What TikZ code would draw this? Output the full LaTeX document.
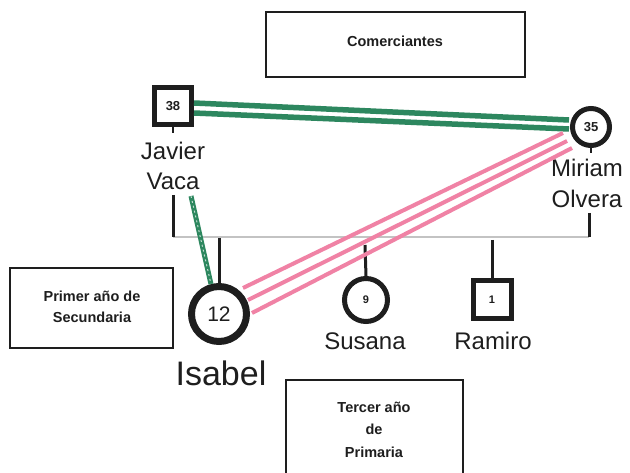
\documentclass[tikz,border=0pt]{standalone}
\usepackage{fontspec}
\setmainfont{Liberation Sans}
\definecolor{tiegreen}{RGB}{45,135,95}
\definecolor{tiepink}{RGB}{240,130,165}
\definecolor{ink}{RGB}{30,30,30}
\definecolor{sibgrey}{RGB}{195,195,195}
\begin{document}
\begin{tikzpicture}[x=1pt,y=-1pt,
  infobox/.style={draw=ink,line width=2.3pt,inner sep=0pt},
  boxtext/.style={font=\bfseries\fontsize{14.5}{16}\selectfont,text=ink,anchor=base},
  female/.style={circle,draw=ink,inner sep=0pt,text=ink},
  male/.style={rectangle,draw=ink,inner sep=0pt,text=ink},
  personname/.style={font=\fontsize{24}{26}\selectfont,text=ink,anchor=base},
  stem/.style={draw=ink,line width=3pt},
  greentie/.style={draw=tiegreen,line width=5.5pt},
  pinktie/.style={draw=tiepink,line width=4pt}]
\useasboundingbox (0,0) rectangle (630,473);
\clip (0,0) rectangle (630,473);
\fill[white] (0,0) rectangle (630,473);

% info boxes
\node[infobox,minimum width=259pt,minimum height=65pt] (com) at (395.5,44.5) {};
\node[boxtext] (comt) at (395,47) {Comerciantes};
\node[infobox,minimum width=163pt,minimum height=80pt] (pri) at (91.5,308) {};
\node[boxtext] (pri1) at (92,302) {Primer año de};
\node[boxtext] (pri2) at (92,323) {Secundaria};
\node[infobox,minimum width=177pt,minimum height=110pt] (ter) at (374.5,435) {};
\node[boxtext] (ter1) at (374,413) {Tercer año};
\node[boxtext] (ter2) at (374,435) {de};
\node[boxtext] (ter3) at (374,457) {Primaria};

% sibling line and stems
\coordinate (sibL) at (173,237);
\coordinate (sibR) at (589,237);
\coordinate (jvstem) at (173,195);
\coordinate (mostem) at (589,213);
\coordinate (isatop) at (219,238);
\coordinate (sustop) at (365,245);
\coordinate (ramtop) at (492,240);
\draw[sibgrey,line width=2pt] (sibL) -- (sibR);
\draw[stem] (jvstem) -- (sibL);
\draw[stem] (mostem) -- (sibR);

% people
\node[male,line width=5pt,minimum size=37pt,font=\bfseries\fontsize{13}{14}\selectfont] (jv) at (173,106) {38};
\node[female,line width=5pt,minimum size=37pt,font=\bfseries\fontsize{13}{14}\selectfont] (mo) at (591,127) {35};
\node[female,line width=7pt,minimum size=55pt,font=\fontsize{21}{22}\selectfont] (isa) at (219,314) {12};
\node[female,line width=5pt,minimum size=43pt,font=\bfseries\fontsize{11}{12}\selectfont] (sus) at (366,300) {9};
\node[male,line width=5pt,minimum size=38pt,font=\bfseries\fontsize{11}{12}\selectfont] (ram) at (492,300) {1};

\draw[stem] (isatop) -- (isa.north);
\draw[stem] (sustop) -- (sus.north);
\draw[stem] (ramtop) -- (ram.north);
\draw[ink,line width=2pt] (jv.south) -- ++(0,6);
\draw[ink,line width=2pt] (mo.south) -- ++(0,5);

% names
\node[personname] (jvn1) at (173,160) {Javier};
\node[personname] (jvn2) at (173,190) {Vaca};
\node[personname] (mon1) at (587,177) {Miriam};
\node[personname] (mon2) at (587,208) {Olvera};
\node[personname] (susn) at (365,350) {Susana};
\node[personname] (ramn) at (493,350) {Ramiro};
\node[personname,font=\fontsize{34}{36}\selectfont] (isan) at (221,385) {Isabel};

% green ties
\coordinate (g1a) at (194,103);
\coordinate (g1b) at (569,120);
\coordinate (g2a) at (194,113);
\coordinate (g2b) at (569,129);
\draw[greentie] (g1a) -- (g1b);
\draw[greentie] (g2a) -- (g2b);
\coordinate (g3a) at (191,196);
\draw[tiegreen,line width=5pt] (g3a) -- (isa.105);
\draw[white!70!tiegreen,line width=1pt,dash pattern=on 2pt off 3pt] (g3a) -- (isa.105);

% pink ties
\coordinate (p1a) at (243,288);
\coordinate (p1b) at (563,133);
\coordinate (p2a) at (248,300);
\coordinate (p2b) at (567,141);
\coordinate (p3a) at (252,313);
\coordinate (p3b) at (572,148);
\draw[pinktie] (p1a) -- (p1b);
\draw[pinktie] (p2a) -- (p2b);
\draw[pinktie] (p3a) -- (p3b);
\end{tikzpicture}
\end{document}
